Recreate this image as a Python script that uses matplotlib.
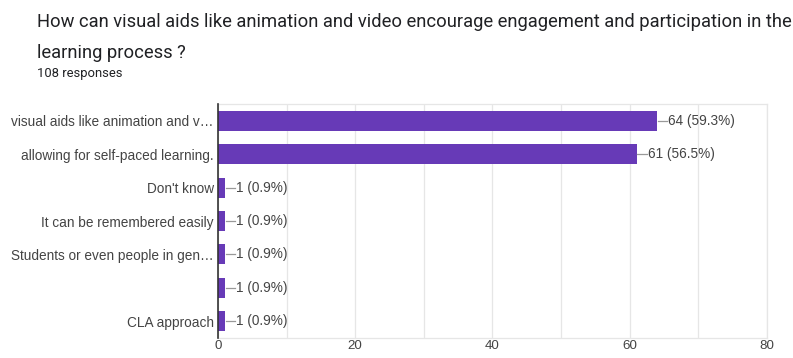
import matplotlib.pyplot as plt
import matplotlib.ticker as ticker

# Survey answers and counts (108 responses in total).
categories = [
    'visual aids like animation and v\u2026',
    'allowing for self-paced learning.',
    "Don't know",
    'It can be remembered easily',
    'Students or even people in gen\u2026',
    '',
    'CLA approach',
]
counts = [64, 61, 1, 1, 1, 1, 1]
total = 108

question = ['How can visual aids like animation and video encourage engagement and participation in the',
            'learning process ?']

bar_color = '#673ab7'
text_color = '#444444'

fig = plt.figure(figsize=(7.93, 3.58), dpi=100)
ax = fig.add_axes([0.2749, 0.0559, 0.6923, 0.6535])

y = list(range(len(categories)))
ax.barh(y, counts, height=0.6, color=bar_color, zorder=3)
ax.set_ylim(len(categories) - 0.5, -0.5)
ax.set_xlim(0, 80)

# Value labels with a short leader line.
for yi, c in zip(y, counts):
    pct = c / total * 100
    ax.plot([c + 0.1, c + 1.5], [yi, yi], color='#999999', lw=0.9, zorder=4, clip_on=False)
    ax.text(c + 1.6, yi, f'{c} ({pct:.1f}%)', va='center', ha='left',
            fontsize=9.8, color=text_color, family='Liberation Sans')

ax.set_yticks(y)
ax.set_yticklabels(categories, fontsize=9.8, color=text_color, family='Liberation Sans')
ax.tick_params(axis='y', length=0, pad=3)

ax.xaxis.set_major_locator(ticker.MultipleLocator(20))
ax.xaxis.set_minor_locator(ticker.MultipleLocator(10))
ax.tick_params(axis='x', which='both', length=0, pad=1.5, labelsize=9.6, labelcolor=text_color)
for lab in ax.get_xticklabels():
    lab.set_family('Liberation Sans')
ax.grid(axis='x', which='both', color='#e6e6e6', lw=0.9, zorder=0)

for side in ['top', 'bottom', 'right']:
    ax.spines[side].set_color('#e6e6e6')
    ax.spines[side].set_linewidth(0.9)
ax.spines['left'].set_color('#333333')
ax.spines['left'].set_linewidth(1.2)
ax.spines['left'].set_zorder(5)

# Question heading and response count.
fig.text(37 / 793, 1 - 22 / 358, question[0], fontsize=13.2, family='Roboto',
         color='#202124', va='center', ha='left')
fig.text(37 / 793, 1 - 53 / 358, question[1], fontsize=13.2, family='Roboto',
         color='#202124', va='center', ha='left')
fig.text(37 / 793, 1 - 73 / 358, '108 responses', fontsize=9.4, family='Roboto',
         color='#202124', va='center', ha='left')

fig.savefig('out.png', dpi=100, facecolor='white')
